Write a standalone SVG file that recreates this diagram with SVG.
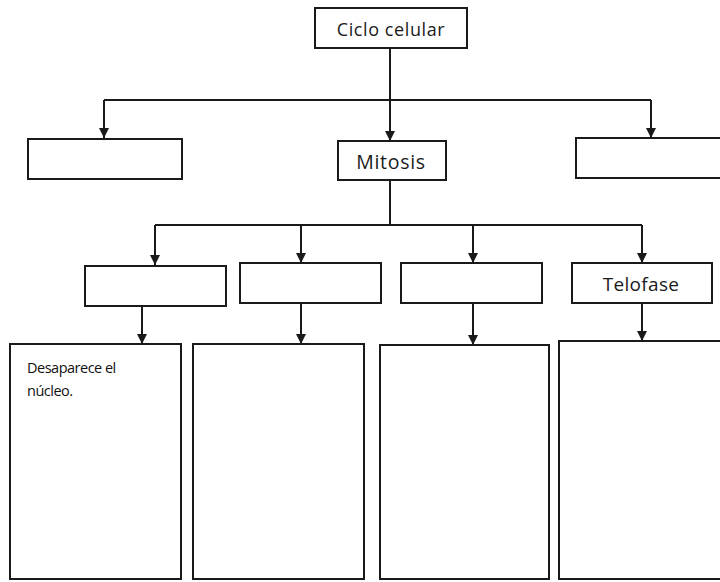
<svg xmlns="http://www.w3.org/2000/svg" width="720" height="582" viewBox="0 0 720 582">
<style>
.box{fill:#fff;stroke:#1a1a1a;stroke-width:2}
.ln{fill:none;stroke:#1a1a1a;stroke-width:2}
.t{font-family:"Open Sans","Liberation Sans",sans-serif;fill:#1a1a1a;text-anchor:middle}
.s{font-family:"Open Sans","Liberation Sans",sans-serif;fill:#111;font-size:14.5px;letter-spacing:-0.5px}
</style>
<defs>
<marker id="ah" viewBox="0 0 10 10" refX="10" refY="5" markerWidth="10" markerHeight="10" markerUnits="userSpaceOnUse" orient="auto">
<path d="M0,0 L10,5 L0,10 Z" fill="#1a1a1a"/>
</marker>
</defs>
<rect width="720" height="582" fill="#fff"/>
<g id="connectors">
<path class="ln" d="M390,48 V100"/>
<path class="ln" d="M104,100 H651"/>
<path class="ln" d="M104,100 V138" marker-end="url(#ah)"/>
<path class="ln" d="M390,100 V141" marker-end="url(#ah)"/>
<path class="ln" d="M651,100 V138" marker-end="url(#ah)"/>
<path class="ln" d="M390,180 V225"/>
<path class="ln" d="M155,225 H642"/>
<path class="ln" d="M155,225 V265" marker-end="url(#ah)"/>
<path class="ln" d="M301,225 V263" marker-end="url(#ah)"/>
<path class="ln" d="M473,225 V263" marker-end="url(#ah)"/>
<path class="ln" d="M642,225 V263" marker-end="url(#ah)"/>
<path class="ln" d="M142,306 V344" marker-end="url(#ah)"/>
<path class="ln" d="M301,303 V344" marker-end="url(#ah)"/>
<path class="ln" d="M473,303 V345" marker-end="url(#ah)"/>
<path class="ln" d="M642,303 V341" marker-end="url(#ah)"/>
</g>
<g id="ciclo"><rect class="box" x="315" y="8" width="152" height="40"/><text class="t" x="391" y="36" font-size="18" letter-spacing="0.6">Ciclo celular</text></g>
<g id="left1"><rect class="box" x="28" y="139" width="154" height="40"/></g>
<g id="mitosis"><rect class="box" x="338" y="141" width="108" height="39"/><text class="t" x="391" y="169" font-size="19.5" letter-spacing="0.7">Mitosis</text></g>
<g id="right1"><rect class="box" x="576" y="138" width="150" height="40"/></g>
<g id="phaseA"><rect class="box" x="85" y="266" width="141" height="40"/></g>
<g id="phaseB"><rect class="box" x="240" y="263" width="141" height="40"/></g>
<g id="phaseC"><rect class="box" x="401" y="263" width="141" height="40"/></g>
<g id="telofase"><rect class="box" x="572" y="263" width="140" height="40"/><text class="t" x="641" y="291" font-size="19" letter-spacing="0.3">Telofase</text></g>
<g id="descA"><rect class="box" x="10" y="344" width="171" height="235"/><text class="s" x="27" y="373">Desaparece el</text><text class="s" x="27" y="396">núcleo.</text></g>
<g id="descB"><rect class="box" x="193" y="344" width="171" height="235"/></g>
<g id="descC"><rect class="box" x="380" y="345" width="169" height="234"/></g>
<g id="descD"><rect class="box" x="559" y="341" width="170" height="238"/></g>
</svg>
